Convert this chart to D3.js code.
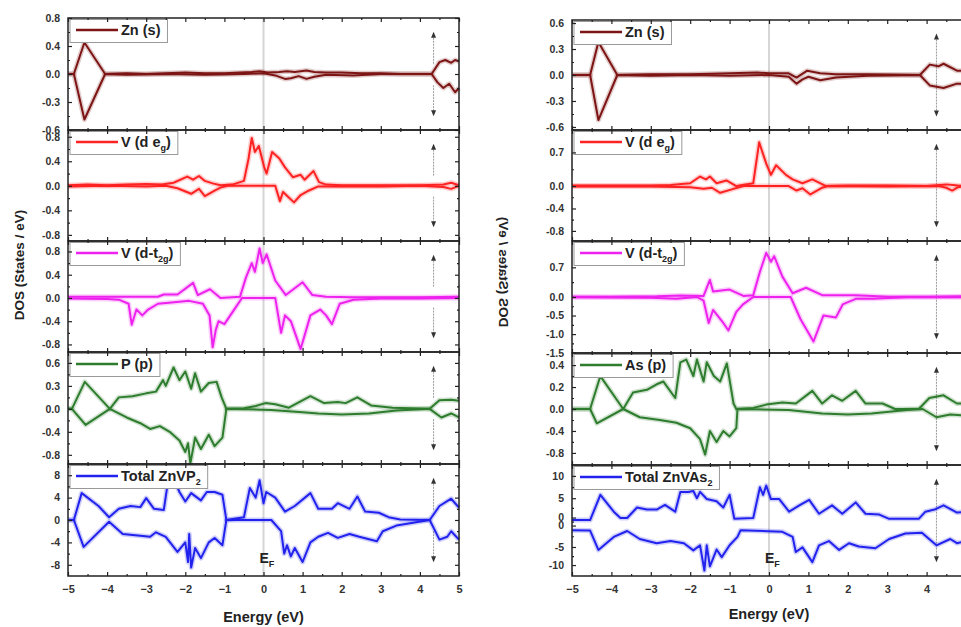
<!DOCTYPE html>
<html>
<head>
<meta charset="utf-8">
<script src="https://cdn.jsdelivr.net/npm/d3@7"></script>
<style>
  body { margin: 0; background: #fff; }
  svg text { font-family: "Liberation Sans", Arial, sans-serif; font-weight: bold; }
</style>
</head>
<body>
<svg id="chart" width="961" height="627"></svg>
<script>
//! DATA  (energy in eV, DOS in states/eV)
const energyTicks = [-5, -4, -3, -2, -1, 0, 1, 2, 3, 4, 5];

// ---- ZnVP2 (left) ----
const znUpL = [[-5,0],[-4.85,0],[-4.58,0.45],[-4.05,0],[-3.5,0.01],[-3,0],[-2.5,0.01],[-2,0.02],[-1.5,0.01],[-1,0.01],[-0.3,0.03],[-0.1,0.04],[0.1,0.02],[0.4,0.03],[0.6,0.04],[0.8,0.03],[1.1,0.05],[1.3,0.03],[1.6,0.02],[2,0.02],[2.5,0.01],[3,0.01],[3.5,0],[4.3,0],[4.5,0.17],[4.65,0.2],[4.8,0.16],[4.9,0.2],[5,0.18]];
const znDnL = [[-5,0],[-4.85,0],[-4.58,-0.65],[-4.05,0],[-3.5,-0.01],[-2.5,0],[-1.5,-0.01],[-0.5,0],[0,0.01],[0.3,-0.02],[0.55,-0.07],[0.7,-0.06],[0.9,-0.03],[1.1,-0.07],[1.3,-0.04],[1.6,-0.01],[2.3,-0.02],[3,0],[4.3,0],[4.45,-0.12],[4.6,-0.2],[4.75,-0.14],[4.9,-0.26],[5,-0.2]];
const egUpL = [[-5,0.01],[-4.5,0.02],[-4,0.01],[-3.5,0.02],[-3,0.03],[-2.6,0.02],[-2.3,0.05],[-1.95,0.15],[-1.8,0.1],[-1.65,0.16],[-1.5,0.08],[-1.3,0.04],[-1.1,0.01],[-0.8,0.02],[-0.5,0.08],[-0.38,0.45],[-0.3,0.78],[-0.22,0.55],[-0.12,0.65],[0.02,0.3],[0.08,0.2],[0.22,0.55],[0.4,0.45],[0.55,0.3],[0.75,0.14],[0.95,0.18],[1.05,0.1],[1.28,0.24],[1.42,0.06],[1.6,0.02],[2,0.01],[3,0.01],[4,0.01],[4.6,0.02],[4.8,0.05],[5,0.01]];
const egDnL = [[-5,-0.01],[-4,0],[-3,-0.01],[-2.5,0],[-2.2,-0.04],[-1.85,-0.13],[-1.65,-0.05],[-1.5,-0.17],[-1.25,-0.08],[-1.1,-0.03],[-0.92,0],[0.3,0],[0.42,-0.25],[0.5,-0.1],[0.58,-0.15],[0.78,-0.27],[0.95,-0.15],[1.15,-0.08],[1.4,-0.01],[2,-0.01],[3,-0.01],[4,0],[4.6,-0.02],[4.8,-0.05],[5,0]];
const t2gUpL = [[-5,0.02],[-4,0.02],[-3,0.02],[-2.7,0.02],[-2.55,0.06],[-2.2,0.06],[-1.8,0.26],[-1.68,0.05],[-1.37,0.15],[-1.1,0],[-0.6,0.02],[-0.45,0.35],[-0.3,0.6],[-0.22,0.45],[-0.1,0.85],[-0.02,0.6],[0.08,0.75],[0.3,0.3],[0.57,0.05],[1,0.27],[1.25,0.05],[1.6,0.02],[2.3,0.01],[3,0.01],[4,0.01],[5,0.02]];
const t2gDnL = [[-5,-0.01],[-4,-0.02],[-3.7,-0.03],[-3.45,-0.1],[-3.37,-0.46],[-3.25,-0.2],[-3.1,-0.3],[-2.95,-0.2],[-2.7,-0.1],[-2.35,-0.08],[-1.9,-0.05],[-1.55,-0.1],[-1.38,-0.3],[-1.3,-0.85],[-1.22,-0.55],[-1.15,-0.4],[-1,-0.45],[-0.75,-0.2],[-0.55,0],[0.3,0],[0.45,-0.6],[0.55,-0.3],[0.7,-0.4],[0.95,-0.88],[1.2,-0.3],[1.45,-0.2],[1.6,-0.3],[1.75,-0.45],[1.95,-0.1],[2.3,-0.03],[3,-0.01],[4,-0.01],[5,0]];
const pUpL = [[-5,0],[-4.9,0],[-4.57,0.47],[-3.93,0],[-3.7,0.2],[-3.35,0.22],[-3,0.27],[-2.75,0.3],[-2.57,0.5],[-2.5,0.4],[-2.3,0.72],[-2.15,0.5],[-2,0.65],[-1.85,0.35],[-1.75,0.62],[-1.6,0.3],[-1.4,0.45],[-1.2,0.47],[-1.07,0.2],[-0.95,0],[-0.5,0.01],[-0.2,0.05],[0.05,0.1],[0.3,0.08],[0.65,0.02],[1.2,0.22],[1.55,0.1],[1.9,0.12],[2.1,0.1],[2.4,0.2],[2.75,0.06],[3.3,0.02],[4.25,0],[4.5,0.15],[4.8,0.16],[5,0.14]];
const pDnL = [[-5,0],[-4.9,0],[-4.55,-0.28],[-3.93,0],[-3.5,-0.15],[-3.15,-0.25],[-2.9,-0.35],[-2.65,-0.3],[-2.4,-0.4],[-2.15,-0.55],[-2,-0.75],[-1.93,-0.6],[-1.87,-0.95],[-1.75,-0.5],[-1.6,-0.7],[-1.4,-0.45],[-1.25,-0.65],[-1.05,-0.5],[-0.95,0],[0.2,-0.02],[1,-0.06],[1.4,-0.08],[2,-0.1],[2.7,-0.08],[3.4,-0.03],[4.25,0],[4.55,-0.15],[4.8,-0.08],[5,-0.15]];
const totUpL = [[-5,0],[-4.85,0],[-4.65,4.8],[-4.22,2.5],[-3.95,0.5],[-3.7,2],[-3.4,2.5],[-3.15,2.3],[-3,3.9],[-2.8,2],[-2.55,1.8],[-2.45,6.5],[-2.3,7.5],[-2.15,5],[-2,3.3],[-1.85,4.8],[-1.6,3.5],[-1.45,5],[-1.25,5],[-1.05,4.5],[-0.95,0],[-0.5,0.5],[-0.35,5.7],[-0.2,4],[-0.1,7.1],[0,3],[0.07,5],[0.3,4],[0.55,1.5],[0.8,2.5],[1.2,4.8],[1.4,2],[1.75,2],[1.9,3],[2.2,2],[2.4,4.2],[2.6,1.5],[2.95,1.3],[3.2,0.5],[3.5,0.1],[4.25,0],[4.5,2.5],[4.8,3.8],[5,2.2]];
const totDnL = [[-5,0],[-4.85,0],[-4.6,-4.8],[-3.95,-0.3],[-3.6,-2.5],[-3.15,-2.8],[-2.9,-3],[-2.75,-2.2],[-2.5,-3],[-2.2,-5.7],[-2,-4],[-1.93,-7.5],[-1.9,-2.5],[-1.85,-8.5],[-1.75,-5],[-1.6,-6.8],[-1.4,-4],[-1.25,-3.2],[-1.05,-4.5],[-0.95,0],[0.2,0],[0.45,-2],[0.53,-6],[0.6,-4.5],[0.7,-6.5],[0.8,-5],[1,-7.5],[1.2,-4],[1.4,-3],[1.65,-2.3],[1.9,-3.2],[2.2,-2.5],[2.45,-3],[2.9,-3.8],[3.05,-2],[3.4,-1],[4.25,0],[4.5,-3.5],[4.7,-3],[4.8,-2],[5,-3.5]];

// ---- ZnVAs2 (right) ----
const znUpR = [[-5,0],[-4.54,0],[-4.33,0.38],[-3.85,0],[-3,0.01],[-2,0.01],[-1,0.02],[-0.3,0.03],[0,0.02],[0.5,0.02],[0.7,-0.03],[0.97,0.05],[1.3,0.02],[1.7,0.01],[2.5,0.01],[3.83,0],[4.08,0.12],[4.3,0.1],[4.43,0.13],[4.77,0.05],[5,0.05]];
const znDnR = [[-5,0],[-4.54,0],[-4.33,-0.52],[-3.85,0],[-3,-0.01],[-2,0],[-1,-0.01],[0,0],[0.5,-0.02],[0.7,-0.1],[0.85,-0.05],[1,-0.02],[1.3,-0.06],[1.7,-0.03],[2.5,-0.01],[3.83,0],[4.08,-0.12],[4.43,-0.15],[4.77,-0.1],[5,-0.1]];
const egUpR = [[-5,0.01],[-4,0.01],[-3,0.01],[-2.5,0.02],[-2,0.05],[-1.75,0.17],[-1.6,0.12],[-1.5,0.17],[-1.33,0.05],[-1.08,0.1],[-0.83,0],[-0.4,0.05],[-0.25,0.78],[-0.07,0.4],[0.05,0.2],[0.18,0.37],[0.43,0.2],[0.6,0.12],[0.85,0.05],[1.1,0.12],[1.45,0],[2,0.01],[3,0.01],[4,0],[4.5,0.03],[4.8,0.01],[5,0]];
const egDnR = [[-5,-0.01],[-3,-0.01],[-2,-0.02],[-1.66,-0.05],[-1.45,-0.03],[-1.24,-0.12],[-0.9,-0.05],[-0.65,0],[0.5,0],[0.7,-0.08],[0.85,-0.04],[1.05,-0.15],[1.35,-0.03],[1.5,0],[3,-0.01],[4.3,0],[4.5,-0.03],[4.65,-0.08],[4.8,-0.02],[5,0]];
const t2gUpR = [[-5,0.01],[-4,0.01],[-2.85,0.02],[-2.25,0.04],[-1.66,0.03],[-1.5,0.46],[-1.42,0.15],[-1,0.2],[-0.65,0.03],[-0.4,0.05],[-0.23,0.68],[-0.07,1.19],[0.05,0.95],[0.13,1.1],[0.34,0.55],[0.6,0.1],[0.94,0.25],[1.35,0.05],[2.2,0.05],[3.05,0.01],[4,0.01],[5,0.02]];
const t2gDnR = [[-5,-0.01],[-3,-0.02],[-2.35,-0.05],[-1.83,0],[-1.66,-0.1],[-1.53,-0.7],[-1.42,-0.35],[-1.16,-0.7],[-1.03,-0.9],[-0.83,-0.4],[-0.66,-0.2],[-0.4,0],[0.55,0],[0.8,-0.6],[1.13,-1.2],[1.38,-0.5],[1.7,-0.55],[1.87,-0.2],[2.2,-0.05],[2.62,-0.05],[3.5,-0.01],[5,-0.01]];
const asUpR = [[-5,0],[-4.54,0],[-4.28,0.6],[-3.7,0],[-3.45,0.3],[-3.1,0.35],[-2.85,0.45],[-2.68,0.5],[-2.38,0.2],[-2.25,0.85],[-2.1,0.9],[-1.92,0.6],[-1.83,0.9],[-1.66,0.5],[-1.58,0.85],[-1.4,0.6],[-1.24,0.5],[-1.07,0.83],[-0.9,0.1],[-0.83,0],[-0.4,0.02],[-0.07,0.08],[0.34,0.12],[0.68,0.1],[1.1,0.33],[1.35,0.1],[1.6,0.25],[1.86,0.15],[2.2,0.33],[2.45,0.1],[2.88,0.1],[3.2,0],[3.8,0],[4.07,0.2],[4.43,0.25],[4.77,0.1],[5,0.1]];
const asDnR = [[-5,0],[-4.54,0],[-4.37,-0.26],[-3.7,0],[-3.28,-0.15],[-2.77,-0.2],[-2.35,-0.25],[-2,-0.35],[-1.75,-0.55],[-1.62,-0.83],[-1.5,-0.4],[-1.33,-0.6],[-1.16,-0.4],[-1,-0.5],[-0.83,-0.35],[-0.8,0],[0.5,-0.02],[1.35,-0.08],[2,-0.1],[2.6,-0.08],[3.5,-0.02],[3.9,0],[4.25,-0.15],[4.6,-0.1],[5,-0.12]];
const totUpR = [[-5,0],[-4.54,0],[-4.28,6],[-3.94,2],[-3.77,0.5],[-3.6,0.5],[-3.35,3],[-3.1,2.5],[-2.85,2.5],[-2.64,3.6],[-2.38,2],[-2.25,6.7],[-2.05,6.7],[-1.92,6.9],[-1.83,5.2],[-1.75,6.7],[-1.58,5],[-1.33,4.5],[-1.16,3],[-1,6],[-0.88,0.3],[-0.4,0.5],[-0.23,7.8],[-0.15,6],[-0.07,8.2],[0.05,5],[0.26,5],[0.51,2],[0.77,3.5],[1.02,4.8],[1.27,1.5],[1.6,3.5],[1.86,1.5],[2.2,4.2],[2.45,1.5],[2.8,1.3],[3.05,0.3],[3.8,0.3],[3.97,2],[4.2,2.5],[4.43,3.5],[4.77,1.8],[5,2]];
// spin-down total is plotted on its own shifted zero (second "0" label)
const totDnR = [[-5,-2.4],[-4.54,-2.5],[-4.33,-7.1],[-3.94,-4],[-3.6,-2.6],[-3.28,-4.5],[-2.85,-5.5],[-2.5,-5],[-2.16,-5.5],[-1.92,-7.2],[-1.75,-6],[-1.64,-12],[-1.58,-6],[-1.5,-11],[-1.33,-7],[-1.2,-8.8],[-1,-6],[-0.8,-4],[-0.72,-2.4],[0.34,-2.8],[0.6,-4],[0.68,-7.6],[0.85,-6.5],[1.1,-10],[1.27,-6],[1.52,-5],[1.78,-7.1],[2.03,-5.5],[2.28,-6.3],[2.7,-6.7],[3.05,-4.5],[3.46,-3.2],[3.88,-3],[4.25,-6],[4.6,-4.5],[4.77,-5.5],[5,-5]];

// tick values / labels of every strip
const tickStd = [0.8, 0.4, 0, -0.4, -0.8];
const lblStd = ['0.8', '0.4', '0.0', '-0.4', '-0.8'];
const lblZnL = ['0.8', '0.4', '0.0', '-0.3', '-0.6'];
const lblPL = ['0.6', '0.3', '0.0', '-0.4', '-0.8'];
const tickTotL = [8, 4, 0, -4, -8];
const lblTotL = ['8', '4', '0', '-4', '-8'];
const tickZnR = [0.6, 0.3, 0, -0.3, -0.6];
const lblZnR = ['0.6', '0.3', '0.0', '-0.3', '-0.6'];
const tickEgR = [0.6, 0, -0.4, -0.8];
const lblEgR = ['0.7', '0.0', '-0.4', '-0.8'];
const tickT2gR = [0.8, 0, -0.5, -1, -1.5];
const lblT2gR = ['0.7', '0.0', '-0.5', '-1.0', '-1.5'];
const lblAsR = ['0.4', '0.2', '0.0', '-0.4', '-0.8'];
const tickTotR = [10.5, 5.2, 0.6, -1.3, -6.4, -10.7];
const lblTotR = ['10', '5', '0', '0', '-5', '-10'];

//! COLOURS
const cZn = '#7d1515', cEg = '#ff2222', cT2g = '#ee22ee', cP = '#2e7d2e', cTot = '#2222ee';

//! PANELS
const panels = [
  {
    x0: 68, x1: 459, bounds: [18, 130, 241, 352, 464, 576], arrowE: 4.35, gap: true,
    yLabelX: 19, yLabelY: 265, mirror: false, xLabelY: 622,
    subs: [
      { name: 'Zn (s)', color: cZn, up: znUpL, dn: znDnL, dom: [-0.8, 0.8], ticks: tickStd, labels: lblZnL },
      { name: 'V (d e_{g})', color: cEg, up: egUpL, dn: egDnL, dom: [-0.9, 0.91], ticks: tickStd, labels: lblStd },
      { name: 'V (d-t_{2g})', color: cT2g, up: t2gUpL, dn: t2gDnL, dom: [-0.93, 0.98], ticks: tickStd, labels: lblStd },
      { name: 'P (p)', color: cP, up: pUpL, dn: pDnL, dom: [-0.96, 0.99], ticks: tickStd, labels: lblPL },
      { name: 'Total ZnVP_{2}', color: cTot, up: totUpL, dn: totDnL, dom: [-10, 10], ticks: tickTotL, labels: lblTotL }
    ]
  },
  {
    x0: 572, x1: 966, bounds: [20, 130, 241, 353, 465, 576], arrowE: 4.25, gap: false,
    yLabelX: 504, yLabelY: 272, mirror: true, xLabelY: 619,
    subs: [
      { name: 'Zn (s)', color: cZn, up: znUpR, dn: znDnR, dom: [-0.635, 0.635], ticks: tickZnR, labels: lblZnR },
      { name: 'V (d e_{g})', color: cEg, up: egUpR, dn: egDnR, dom: [-0.98, 1.0], ticks: tickEgR, labels: lblEgR },
      { name: 'V (d-t_{2g})', color: cT2g, up: t2gUpR, dn: t2gDnR, dom: [-1.51, 1.51], ticks: tickT2gR, labels: lblT2gR },
      { name: 'As (p)', color: cP, up: asUpR, dn: asDnR, dom: [-1.02, 1.02], ticks: tickStd, labels: lblAsR },
      { name: 'Total ZnVAs_{2}', color: cTot, up: totUpR, dn: totDnR, dom: [-13.3, 13.1], ticks: tickTotR, labels: lblTotR }
    ]
  }
];

const svg = d3.select('#chart');

// text with _{sub} parts
const richText = (sel, str, subSize) => {
  const parts = str.split(/_\{([^}]*)\}/);
  parts.forEach((p, i) => {
    if (!p) return;
    const sub = i % 2 === 1;
    sel.append('tspan')
      .attr('dy', sub ? 4 : (i > 0 ? -4 : 0))
      .style('font-size', sub ? subSize + 'px' : null)
      .text(p);
  });
};

const minorsOf = (vals, dom) => {
  const s = vals.slice().sort((a, b) => a - b);
  const out = [];
  for (let i = 0; i < s.length - 1; i++) out.push((s[i] + s[i + 1]) / 2);
  return out.filter(v => v > dom[0] && v < dom[1]);
};

panels.forEach(pan => {
  const g = svg.append('g');
  const x = d3.scaleLinear().domain([-5, 5]).range([pan.x0, pan.x1]);
  const top = pan.bounds[0], bottom = pan.bounds[5];

  // Fermi level
  g.append('line')
    .attr('x1', x(0)).attr('x2', x(0))
    .attr('y1', top).attr('y2', bottom)
    .attr('stroke', '#d6d6d6').attr('stroke-width', 2);

  pan.subs.forEach((s, k) => {
    const y0 = pan.bounds[k], y1 = pan.bounds[k + 1];
    const h = y1 - y0;
    const y = d3.scaleLinear().domain(s.dom).range([y1, y0]);
    const sg = g.append('g');

    // spin arrows
    const ax = x(pan.arrowE);
    const aTop = y0 + 0.15 * h, aBot = y0 + 0.85 * h;
    const segs = pan.gap ? [[aTop, y0 + 0.42 * h], [y0 + 0.6 * h, aBot]] : [[aTop, aBot]];
    segs.forEach(sgm => sg.append('line')
      .attr('x1', ax).attr('x2', ax).attr('y1', sgm[0]).attr('y2', sgm[1])
      .attr('stroke', '#9a9a9a').attr('stroke-width', 1).attr('stroke-dasharray', '2,1'));
    sg.append('path').attr('d', `M${ax},${aTop - 3}l-2.5,6h5z`).attr('fill', '#333');
    sg.append('path').attr('d', `M${ax},${aBot + 3}l-2.5,-6h5z`).attr('fill', '#333');

    // curves
    const line = d3.line().x(d => x(d[0])).y(d => y(d[1]));
    [s.dn, s.up].forEach(ser => {
      sg.append('path').datum(ser).attr('d', line)
        .attr('fill', 'none').attr('stroke', s.color).attr('stroke-opacity', 0.22)
        .attr('stroke-width', 5).attr('stroke-linejoin', 'round');
      sg.append('path').datum(ser).attr('d', line)
        .attr('fill', 'none').attr('stroke', s.color)
        .attr('stroke-width', 2).attr('stroke-linejoin', 'round');
    });

    // legend
    const lg = sg.append('g');
    const box = lg.append('rect')
      .attr('x', pan.x0 + 2).attr('y', y0 + 1.5).attr('height', 23)
      .attr('fill', '#fff').attr('stroke', '#999').attr('stroke-width', 1);
    lg.append('line')
      .attr('x1', pan.x0 + 8).attr('x2', pan.x0 + 50)
      .attr('y1', y0 + 12).attr('y2', y0 + 12)
      .attr('stroke', s.color).attr('stroke-width', 2.4);
    const txt = lg.append('text')
      .attr('x', pan.x0 + 53).attr('y', y0 + 17)
      .style('font-size', '14.5px').attr('fill', '#222');
    richText(txt, s.name, 9);
    box.attr('width', txt.node().getComputedTextLength() + 58);

    // y ticks (left labelled, right plain)
    const yMinor = minorsOf(s.ticks, s.dom);
    const yl = sg.append('g').attr('transform', `translate(${pan.x0},0)`)
      .call(d3.axisLeft(y).tickValues(s.ticks).tickSize(-4).tickPadding(8)
        .tickFormat((d, i) => s.labels[i]));
    yl.selectAll('text').style('font-size', '10.5px').attr('fill', '#333');
    sg.append('g').attr('transform', `translate(${pan.x0},0)`)
      .call(d3.axisLeft(y).tickValues(yMinor).tickSize(-2).tickFormat(''));
    sg.append('g').attr('transform', `translate(${pan.x1},0)`)
      .call(d3.axisRight(y).tickValues(s.ticks).tickSize(-4).tickFormat(''));
    sg.append('g').attr('transform', `translate(${pan.x1},0)`)
      .call(d3.axisRight(y).tickValues(yMinor).tickSize(-2).tickFormat(''));

    // x ticks on top and bottom of every strip
    const xMinor = d3.range(-4.5, 5, 1);
    const last = k === pan.subs.length - 1;
    const xb = sg.append('g').attr('transform', `translate(0,${y1})`)
      .call(d3.axisBottom(x).tickValues(energyTicks).tickSize(-4).tickPadding(9)
        .tickFormat(last ? d3.format('d') : ''));
    xb.selectAll('text').style('font-size', '11px').attr('fill', '#333');
    sg.append('g').attr('transform', `translate(0,${y1})`)
      .call(d3.axisBottom(x).tickValues(xMinor).tickSize(-2).tickFormat(''));
    sg.append('g').attr('transform', `translate(0,${y0})`)
      .call(d3.axisTop(x).tickValues(energyTicks).tickSize(-4).tickFormat(''));
    sg.append('g').attr('transform', `translate(0,${y0})`)
      .call(d3.axisTop(x).tickValues(xMinor).tickSize(-2).tickFormat(''));

    sg.selectAll('.domain').remove();
    sg.selectAll('.tick line').attr('stroke', '#222').attr('stroke-width', 1.2);

    // frame
    sg.append('rect')
      .attr('x', pan.x0).attr('y', y0).attr('width', pan.x1 - pan.x0).attr('height', h)
      .attr('fill', 'none').attr('stroke', '#222').attr('stroke-width', 1.5);
  });

  // Fermi label
  const ef = g.append('text').attr('x', x(0) - 4).attr('y', 563)
    .style('font-size', '14px').attr('fill', '#222');
  richText(ef, 'E_{F}', 9);

  // axis titles
  g.append('text')
    .attr('x', x(0)).attr('y', pan.xLabelY).attr('text-anchor', 'middle')
    .style('font-size', '14.5px').attr('fill', '#222')
    .text('Energy (eV)');

  g.append('text')
    .attr('transform', `translate(${pan.yLabelX},${pan.yLabelY}) ${pan.mirror ? 'scale(-1,1) ' : ''}rotate(-90)`)
    .attr('text-anchor', 'middle').attr('dy', '0.35em')
    .style('font-size', '13.5px').attr('fill', '#222')
    .text('DOS (States / eV)');
});
</script>
</body>
</html>
